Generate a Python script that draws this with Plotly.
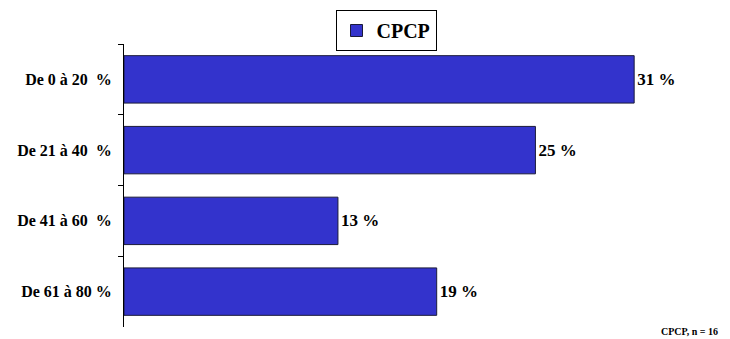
import plotly.graph_objects as go

categories = ["De 0 à 20 \u00a0%", "De 21 à 40 \u00a0%", "De 41 à 60 \u00a0%", "De 61 à 80 %"]
values = [31, 25, 13, 19]
series_name = "CPCP"
source_note = "CPCP, n = 16"

FONT = "Liberation Serif, Times New Roman, serif"

# page body has an 8px margin, so the figure is drawn 8px smaller
W, H = 722, 331
L, T, B, PW = 116, 36, 12, 576
PH = H - T - B

fig = go.Figure()
fig.add_trace(go.Bar(
    x=values,
    y=categories,
    orientation="h",
    name=series_name,
    marker=dict(color="#3333CC", line=dict(color="#1a1a3a", width=1)),
    text=[f"<b>{v} %</b>" for v in values],
    textposition="outside",
    textfont=dict(family=FONT, size=17, color="black"),
    cliponaxis=False,
    showlegend=True,
))

fig.update_yaxes(
    autorange="reversed",
    showline=True, linecolor="black", linewidth=1,
    ticks="outside", ticklen=5, tickcolor="black",
    tickson="boundaries",
    tickfont=dict(family=FONT, size=16, color="black", weight="bold"),
    ticksuffix="  ",
    showgrid=False,
)
fig.update_xaxes(range=[0, 35], visible=False, showgrid=False)

fig.update_layout(
    width=W, height=H,
    margin=dict(l=L, r=W - L - PW, t=T, b=B, autoexpand=False),
    bargap=0.33,
    plot_bgcolor="white", paper_bgcolor="white",
    legend=dict(
        x=(378 - L) / PW, y=1 + (T - 2) / PH,
        xanchor="center", yanchor="top",
        bordercolor="black", borderwidth=1,
        font=dict(family=FONT, size=20, color="black", weight="bold"),
        itemwidth=30,
    ),
    annotations=[dict(
        text=f"<b>{source_note}</b>", xref="paper", yref="paper",
        x=(W - 10 - L) / PW, y=-B / PH, xanchor="right", yanchor="bottom",
        showarrow=False, font=dict(family=FONT, size=10, color="black"),
    )],
)

fig.write_html("out.html")
